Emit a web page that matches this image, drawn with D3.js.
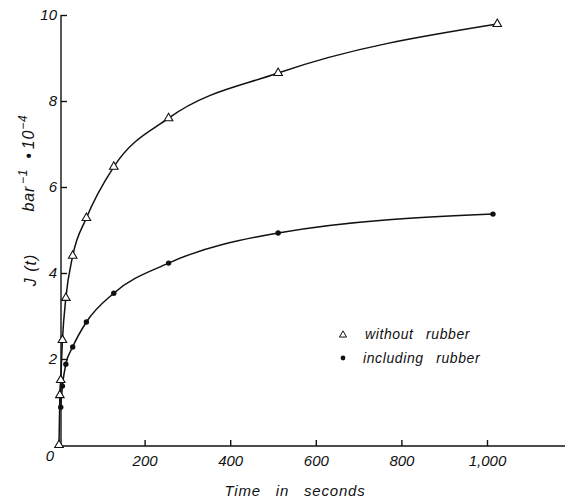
<!DOCTYPE html>
<html><head><meta charset="utf-8">
<script src="https://cdn.jsdelivr.net/npm/d3@7"></script>
<style>
body{margin:0;background:#fff;}
text{font-family:"Liberation Sans",Arial,sans-serif;font-style:italic;fill:#111;}
</style></head>
<body><svg id="c" width="565" height="504"></svg>
<script>
const times = [0, 2, 4, 8, 16, 32, 64, 128, 256, 512, 1024];
const withoutRubber = [0, 1.16, 1.51, 2.44, 3.42, 4.40, 5.28, 6.47, 7.60, 8.65, 9.79];
const timesIncl = [4, 8, 16, 32, 64, 128, 256, 512, 1014];
const includingRubber = [0.88, 1.37, 1.88, 2.28, 2.86, 3.53, 4.23, 4.93, 5.37];
const xTicks = [200, 400, 600, 800, 1000];
const xTickLabels = ["200", "400", "600", "800", "1,000"];
const yTicks = [2, 4, 6, 8, 10];
const legendLabels = ["without rubber", "including rubber"];

const svg = d3.select("#c");
const x = d3.scaleLinear().domain([0, 1000]).range([59, 487]);
const y = d3.scaleLinear().domain([0, 10]).range([445, 15]);

// axes
const xAxis = d3.axisBottom(x).tickValues(xTicks).tickFormat((d,i)=>xTickLabels[i])
  .tickSizeInner(-6).tickSizeOuter(0).tickPadding(9);
const gx = svg.append("g").attr("transform", `translate(0,${y(0)+1})`).call(xAxis);
gx.select(".domain").attr("d", `M${x(0)},0H565`).attr("stroke","#111").attr("stroke-width",1.4);
gx.selectAll(".tick line").attr("stroke","#111").attr("stroke-width",1.4);
gx.selectAll(".tick text").attr("font-size",15).attr("font-family","Liberation Sans").attr("font-style","italic").attr("fill","#111");

const yAxis = d3.axisLeft(y).tickValues(yTicks).tickSizeInner(-6).tickSizeOuter(0).tickPadding(4);
const gy = svg.append("g").attr("transform", `translate(${x(0)+2},0)`).call(yAxis);
gy.select(".domain").attr("d", `M0,${y(0)+1}V${y(10)}`).attr("stroke","#111").attr("stroke-width",1.4);
gy.selectAll(".tick line").attr("stroke","#111").attr("stroke-width",1.4);
gy.selectAll(".tick text").attr("font-size",15).attr("font-family","Liberation Sans").attr("font-style","italic").attr("fill","#111");

svg.append("text").attr("x", 50).attr("y", y(0)+16).attr("text-anchor","middle").attr("font-size",15).text("0");

// curves
const line = d3.line().curve(d3.curveMonotoneX);
const ptsA = times.map((t,i)=>[x(t), y(withoutRubber[i])]);
const ptsB = timesIncl.map((t,i)=>[x(t), y(includingRubber[i])]);
svg.append("path").attr("d", line(ptsA)).attr("fill","none").attr("stroke","#111").attr("stroke-width",1.5);
svg.append("path").attr("d", line(ptsB)).attr("fill","none").attr("stroke","#111").attr("stroke-width",1.5);

const tri = d3.symbol().type(d3.symbolTriangle).size(32);
svg.selectAll(".tri").data(ptsA).join("path").attr("class","tri")
  .attr("transform", d=>`translate(${d[0]},${d[1]})`).attr("d", tri())
  .attr("fill","#fff").attr("stroke","#111").attr("stroke-width",1.1);
svg.selectAll(".dot").data(ptsB).join("circle").attr("class","dot")
  .attr("cx", d=>d[0]).attr("cy", d=>d[1]).attr("r", 2.7).attr("fill","#111");

// legend
svg.append("path").attr("transform","translate(343,335)").attr("d", d3.symbol().type(d3.symbolTriangle).size(22)())
  .attr("fill","#fff").attr("stroke","#111").attr("stroke-width",1);
svg.append("circle").attr("cx",343).attr("cy",358).attr("r",2.4).attr("fill","#111");
svg.append("text").attr("x",365).attr("y",339).attr("font-size",14).attr("word-spacing",8).attr("letter-spacing",0.6).text(legendLabels[0]);
svg.append("text").attr("x",363).attr("y",363).attr("font-size",14).attr("word-spacing",8).attr("letter-spacing",0.6).text(legendLabels[1]);

// axis titles
svg.append("text").attr("x",295).attr("y",496).attr("text-anchor","middle").attr("font-size",15)
  .attr("word-spacing",10).attr("letter-spacing",0.8).text("Time in seconds");
const yt = svg.append("text").attr("transform","translate(36,270) rotate(-90)").attr("text-anchor","middle").attr("font-size",16).attr("letter-spacing",1);
yt.text("J (t)");
const yu = svg.append("text").attr("transform","translate(34,163) rotate(-90)").attr("text-anchor","middle").attr("font-size",16).attr("letter-spacing",0.8);
yu.append("tspan").text("bar");
yu.append("tspan").attr("dy",-7).attr("dx",2).attr("font-size",12).text("−1");
yu.append("tspan").attr("dy",7).attr("dx",10).text("•");
yu.append("tspan").attr("dx",3).text("10");
yu.append("tspan").attr("dy",-7).attr("font-size",12).text("−4");
</script></body></html>
